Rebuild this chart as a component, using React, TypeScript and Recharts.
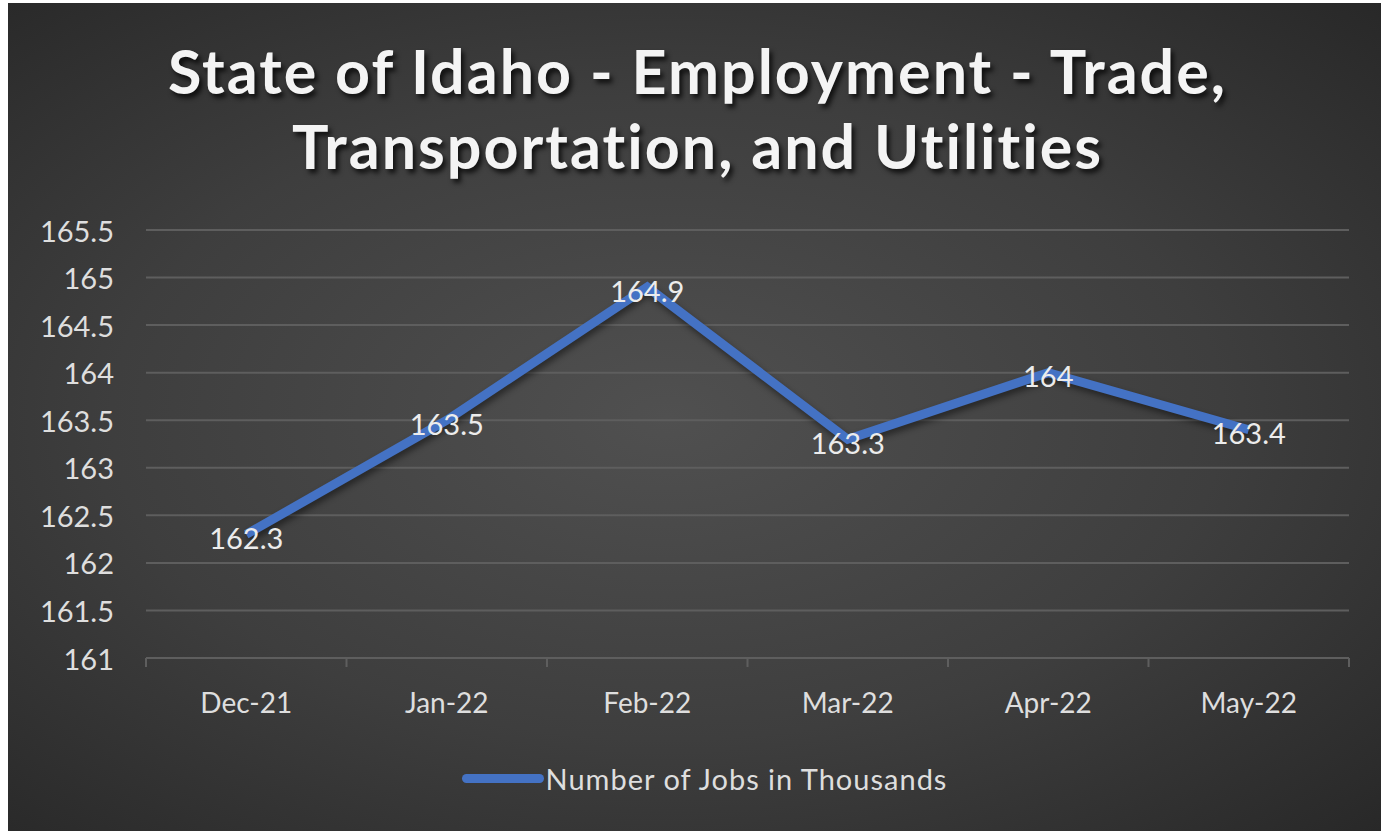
import { CartesianGrid, LabelList, Legend, Line, LineChart, XAxis, YAxis } from "recharts";

const months = ["Dec-21", "Jan-22", "Feb-22", "Mar-22", "Apr-22", "May-22"];
const jobs = [162.3, 163.5, 164.9, 163.3, 164, 163.4];
const yTicks = [161, 161.5, 162, 162.5, 163, 163.5, 164, 164.5, 165, 165.5];

const seriesName = "Number of Jobs in Thousands";
const data = months.map((month, i) => ({ month, jobs: jobs[i] }));

const W = 1373;
const H = 828;
const margin = { top: 227, right: 32, bottom: 30, left: 0 };
const yAxisWidth = 138;
const plotWidth = W - margin.left - margin.right - yAxisWidth;
const band = plotWidth / months.length;
const lineBlue = "#4472c4";
const gridColor = "#5e5e5e";
const textColor = "#dedede";
const font = "Lato, 'Open Sans', sans-serif";

function MonthTick({ x, y, payload, index }: any) {
  const left = x - band / 2;
  return (
    <g>
      <line x1={left} x2={left} y1={y - 8} y2={y + 1} stroke={gridColor} strokeWidth={2} />
      {index === months.length - 1 && (
        <line x1={x + band / 2} x2={x + band / 2} y1={y - 8} y2={y + 1} stroke={gridColor} strokeWidth={2} />
      )}
      <text x={x} y={y + 47} textAnchor="middle" fill={textColor} fontSize={28} fontFamily={font}>
        {payload.value}
      </text>
    </g>
  );
}

function ValueTick({ x, y, payload }: any) {
  return (
    <text x={x - 24} y={y} textAnchor="end" dominantBaseline="central" fill={textColor} fontSize={29} fontFamily={font}>
      {payload.value}
    </text>
  );
}

function PointLabel({ x, y, value }: any) {
  return (
    <text
      x={x}
      y={y + 3}
      textAnchor="middle"
      dominantBaseline="central"
      fill="#ececec"
      fontSize={29}
      fontFamily={font}
    >
      {value}
    </text>
  );
}

function JobsLegend() {
  return (
    <div style={{ display: "flex", alignItems: "center", justifyContent: "center", fontFamily: font, paddingLeft: 52 }}>
      <span style={{ width: 82, height: 9, borderRadius: 5, background: lineBlue, display: "inline-block" }} />
      <span style={{ color: textColor, fontSize: 29, letterSpacing: 1, marginLeft: 2 }}>{seriesName}</span>
    </div>
  );
}

export default function App() {
  return (
    <div
      style={{
        position: "absolute",
        left: 8,
        top: 3,
        width: W,
        height: H,
        background: "radial-gradient(ellipse farthest-corner at 48% 50%, #505050 0%, #3e3e3e 55%, #282828 100%)",
      }}
    >
      <div
        style={{
          position: "absolute",
          left: 3,
          top: 30,
          width: W,
          textAlign: "center",
          color: "#f4f4f4",
          fontFamily: font,
          fontWeight: 700,
          fontSize: 61,
          lineHeight: "75px",
          letterSpacing: 2,
          textShadow: "3px 4px 5px rgba(0,0,0,0.75)",
        }}
      >
        State of Idaho - Employment - Trade,
        <br />
        Transportation, and Utilities
      </div>
      <LineChart width={W} height={H} data={data} margin={margin} style={{ position: "absolute", left: 0, top: 0 }}>
        <CartesianGrid vertical={false} stroke={gridColor} strokeWidth={2} />
        <XAxis
          dataKey="month"
          scale="band"
          axisLine={{ stroke: gridColor, strokeWidth: 2 }}
          tickLine={false}
          tick={<MonthTick />}
          height={103}
          interval={0}
        />
        <YAxis
          domain={[161, 165.5]}
          ticks={yTicks}
          width={yAxisWidth}
          axisLine={false}
          tickLine={false}
          tick={<ValueTick />}
        />
        <Legend verticalAlign="bottom" height={40} content={<JobsLegend />} />
        <Line
          type="linear"
          dataKey="jobs"
          name={seriesName}
          stroke={lineBlue}
          strokeWidth={9}
          dot={false}
          activeDot={false}
          isAnimationActive={false}
          style={{ filter: "drop-shadow(2px 4px 3px rgba(0,0,0,0.45))" }}
        >
          <LabelList dataKey="jobs" content={<PointLabel />} />
        </Line>
      </LineChart>
    </div>
  );
}
